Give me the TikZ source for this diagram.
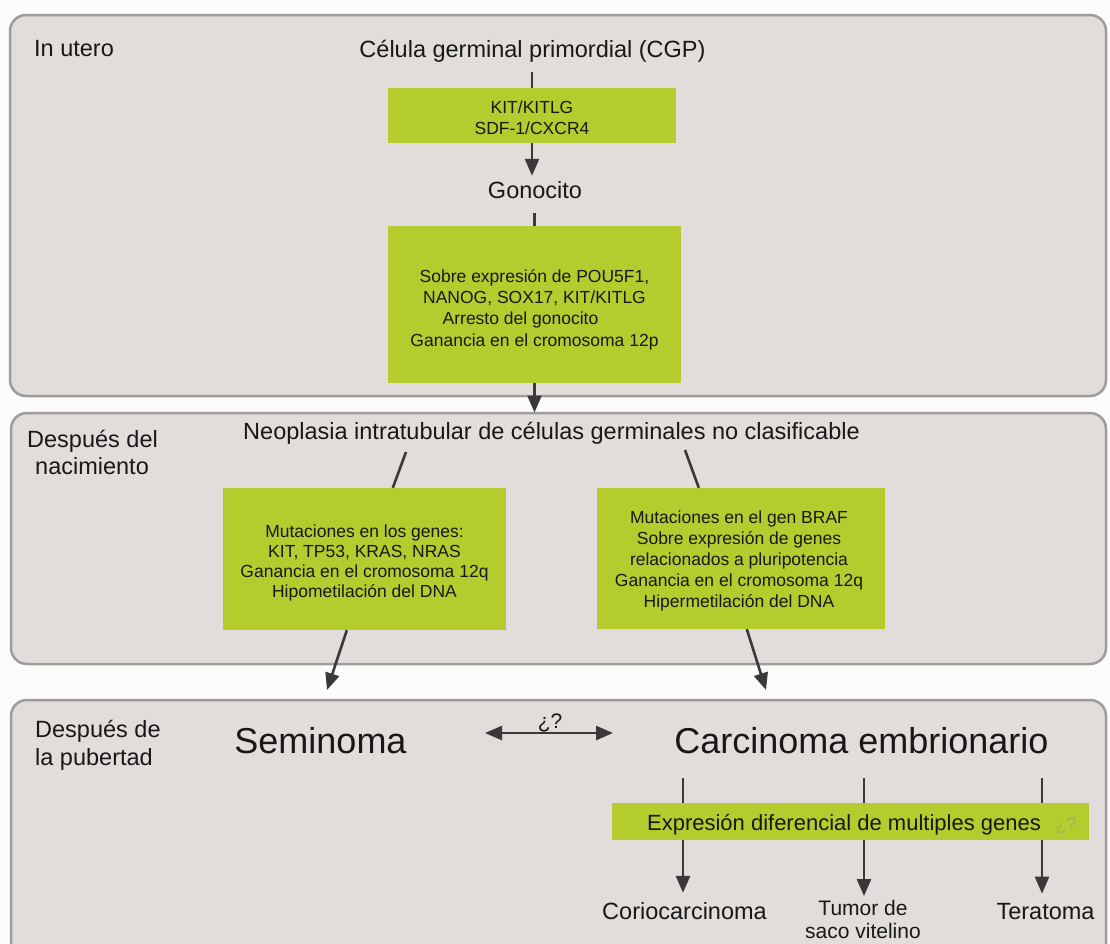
\documentclass[tikz,border=0pt]{standalone}
\usepackage{fontspec}
\setmainfont{Liberation Sans}
\usetikzlibrary{arrows.meta,calc}
\definecolor{pagebg}{RGB}{252,252,250}
\definecolor{panelfill}{RGB}{226,220,218}
\definecolor{panelline}{RGB}{158,156,156}
\definecolor{leaf}{RGB}{181,204,46}
\definecolor{leaffaint}{RGB}{160,178,92}
\definecolor{ink}{RGB}{24,24,24}
\definecolor{arrowc}{RGB}{58,56,58}
\begin{document}
\begin{tikzpicture}[x=1pt,y=-1pt,
  panel/.style={draw=panelline, line width=2.5pt, fill=panelfill, rounded corners=16pt},
  greenbox/.style={fill=leaf, draw=none, inner sep=0pt},
  boxtxt/.style={text=ink, align=center, inner sep=0pt},
  lbl/.style={font=\fontsize{23.5}{28}\selectfont, text=ink, inner sep=0pt, anchor=base west},
  maintxt/.style={font=\fontsize{23.5}{28}\selectfont, text=ink, inner sep=0pt, anchor=base},
  smalltxt/.style={font=\fontsize{21}{24}\selectfont, text=ink, inner sep=0pt, anchor=base},
  bigtxt/.style={font=\fontsize{36}{40}\selectfont, text=ink, inner sep=0pt, anchor=base},
  conn/.style={draw=arrowc, line width=2.6pt},
  arr/.style={conn, -{Triangle[length=17pt,width=14pt]}},
  dblarr/.style={conn, {Triangle[length=17pt,width=14pt]}-{Triangle[length=17pt,width=14pt]}},
]
% page
\fill[pagebg] (0,0) rectangle (1110,943);
\useasboundingbox (0,0) rectangle (1110,943);

% panels
\path[panel] (10,15) rectangle (1106,396);
\path[panel] (11,413) rectangle (1106,664);
\path[panel] (11,700) rectangle (1106,975);

% ---------- In utero ----------
\node[lbl] (utero) at (34,56) {In utero};
\node[maintxt] (cgp) at (532.5,57) {Célula germinal primordial (CGP)};
\node[greenbox, minimum width=288pt, minimum height=55pt] (b1) at (532,115.5) {};
\node[boxtxt, font=\fontsize{17.5}{21}\selectfont] (b1t) at (532,117.5) {KIT/KITLG\\SDF-1/CXCR4};
\node[maintxt] (gon) at (535,198) {Gonocito};
\node[greenbox, minimum width=293pt, minimum height=157pt] (b2) at (534.5,304.5) {};
\node[boxtxt, font=\fontsize{17.5}{21.3}\selectfont] (b2t) at (534.5,309.5)
  {Sobre expresión de POU5F1,\\NANOG, SOX17, KIT/KITLG\\Arresto del gonocito\rule{28pt}{0pt}\\Ganancia en el cromosoma 12p};

\draw[conn, shorten <=10pt] (cgp.south -| b1.north) -- (b1.north);
\draw[arr, shorten >=5pt] (b1.south) -- (b1.south |- gon.north);
\draw[conn, shorten <=15pt] (gon.south -| b2.north) -- (b2.north);

% ---------- Despues del nacimiento ----------
\node[lbl] (nac1) at (27,447) {Después del};
\node[lbl] (nac2) at (35,474) {nacimiento};
\node[maintxt] (neo) at (551.5,439) {Neoplasia intratubular de células germinales no clasificable};
\draw[arr, shorten >=9pt] (b2.south) -- (b2.south |- neo.north);

\node[greenbox, minimum width=283pt, minimum height=142pt] (lb) at (364.5,559) {};
\node[boxtxt, font=\fontsize{17.5}{20.2}\selectfont] (lbt) at (364.5,563)
  {Mutaciones en los genes:\\KIT, TP53, KRAS, NRAS\\Ganancia en el cromosoma 12q\\Hipometilación del DNA};
\node[greenbox, minimum width=288pt, minimum height=141pt] (rb) at (741,558.5) {};
\node[boxtxt, font=\fontsize{17.5}{21}\selectfont] (rbt) at (739,560.5)
  {Mutaciones en el gen BRAF\\Sobre expresión de genes\\relacionados a pluripotencia\\Ganancia en el cromosoma 12q\\Hipermetilación del DNA};

\coordinate (nl) at (406,452);
\coordinate (nr) at (685,450);
\draw[conn] (nl) -- ($(lb.north west)+(170,0)$);
\draw[conn] (nr) -- ($(rb.north west)+(102,0)$);

% ---------- Despues de la pubertad ----------
\node[lbl] (pub1) at (35,737) {Después de};
\node[lbl] (pub2) at (35,765) {la pubertad};
\node[bigtxt] (sem) at (320.5,753) {Seminoma};
\node[bigtxt] (carc) at (861.5,753) {Carcinoma embrionario};

\coordinate (semtip) at (327,690);
\coordinate (carctip) at (766,690);
\draw[arr] ($(lb.south west)+(124,0)$) -- (semtip);
\draw[arr] ($(rb.south west)+(150,0)$) -- (carctip);

\coordinate (qa) at (485,733);
\coordinate (qb) at (613,733);
\draw[dblarr] (qa) -- (qb);
\node[font=\fontsize{21}{24}\selectfont, text=ink, inner sep=0pt, anchor=base] (q) at (550,728) {¿?};

\node[greenbox, minimum width=477pt, minimum height=37pt] (bar) at (850.5,821.5) {};
\node[font=\fontsize{22}{26}\selectfont, text=ink, inner sep=0pt, anchor=base] (bartxt) at (844,830)
  {Expresión diferencial de multiples genes};
\node[font=\fontsize{18}{22}\selectfont, text=leaffaint, inner sep=0pt, anchor=base] (barq) at (1066,830) {¿?};

\coordinate (c1) at (683,778);
\coordinate (c2) at (864,778);
\coordinate (c3) at (1042,778);
\draw[conn] (c1) -- (c1 |- bar.north);
\draw[conn] (c2) -- (c2 |- bar.north);
\draw[conn] (c3) -- (c3 |- bar.north);

\node[maintxt] (corio) at (684.5,919) {Coriocarcinoma};
\node[smalltxt] (tumor) at (863,915.5) {Tumor de};
\node[smalltxt] (saco) at (863,938.6) {saco vitelino};
\node[maintxt] (tera) at (1045.5,919) {Teratoma};

\draw[arr, shorten >=9pt] (c1 |- bar.south) -- (c1 |- corio.north);
\draw[arr, shorten >=4pt] (c2 |- bar.south) -- (c2 |- tumor.north);
\draw[arr, shorten >=9pt] (c3 |- bar.south) -- (c3 |- tera.north);
\end{tikzpicture}
\end{document}
